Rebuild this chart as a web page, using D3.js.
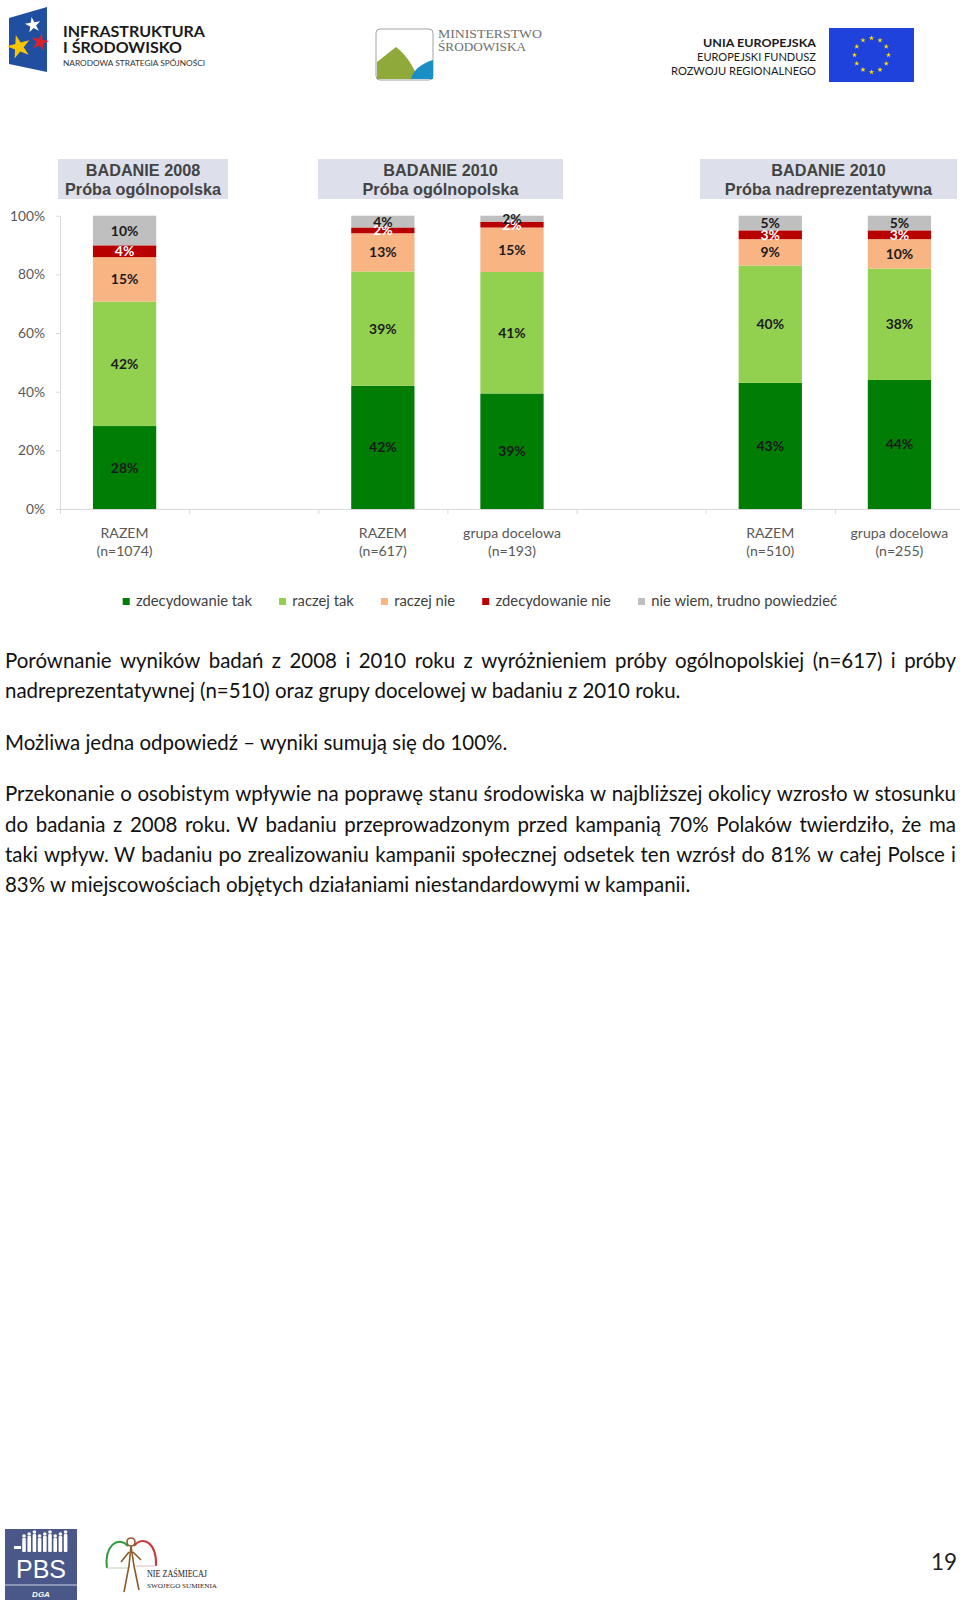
<!DOCTYPE html>
<html>
<head>
<meta charset="utf-8">
<script src="https://cdn.jsdelivr.net/npm/d3@7"></script>
<style>
  body { margin: 0; background: #fff; }
  svg { display: block; }
</style>
</head>
<body>
<script>
// chart data
const categoryNames = ["RAZEM", "", "RAZEM", "grupa docelowa", "", "RAZEM", "grupa docelowa"];
const categorySizes = ["(n=1074)", "", "(n=617)", "(n=193)", "", "(n=510)", "(n=255)"];
const seriesNames = ["zdecydowanie tak", "raczej tak", "raczej nie", "zdecydowanie nie", "nie wiem, trudno powiedzieć"];
const zdecydowanieTak = [28, 0, 42, 39, 0, 43, 44];
const raczejTak = [42, 0, 39, 41, 0, 40, 38];
const raczejNie = [15, 0, 13, 15, 0, 9, 10];
const zdecydowanieNie = [4, 0, 2, 2, 0, 3, 3];
const nieWiem = [10, 0, 4, 2, 0, 5, 5];
const yTicks = [0, 0.2, 0.4, 0.6, 0.8, 1];
const groupTitles = ["BADANIE 2008", "BADANIE 2010", "BADANIE 2010"];
const groupSubtitles = ["Próba ogólnopolska", "Próba ogólnopolska", "Próba nadreprezentatywna"];

const paragraphs = [
  ["Porównanie wyników badań z 2008 i 2010 roku z wyróżnieniem próby ogólnopolskiej (n=617) i próby",
   "nadreprezentatywnej (n=510) oraz grupy docelowej w badaniu z 2010 roku."],
  ["Możliwa jedna odpowiedź – wyniki sumują się do 100%."],
  ["Przekonanie o osobistym wpływie na poprawę stanu środowiska w najbliższej okolicy wzrosło w stosunku",
   "do badania z 2008 roku. W badaniu przeprowadzonym przed kampanią 70% Polaków twierdziło, że ma",
   "taki wpływ. W badaniu po zrealizowaniu kampanii społecznej odsetek ten wzrósł do 81% w całej Polsce i",
   "83% w miejscowościach objętych działaniami niestandardowymi w kampanii."]
];

const seriesValues = [zdecydowanieTak, raczejTak, raczejNie, zdecydowanieNie, nieWiem];
const colors = ["#007d05", "#92d050", "#f9b484", "#b80000", "#bfbfbf"];
const labelColors = ["#1a1a1a", "#1a1a1a", "#1a1a1a", "#ffffff", "#1a1a1a"];

const W = 960, H = 1604;
const sans = "Lato, 'Open Sans', sans-serif";
const arial = "'Liberation Sans', Arial, sans-serif";
const serif = "'Liberation Serif', 'DejaVu Serif', serif";

let svg = d3.select("body").append("svg")
    .attr("width", W)
    .attr("height", H);

// font size that makes str exactly target px wide
function fitSize(str, target, family, weight) {
    let t = svg.append("text")
        .attr("font-family", family)
        .attr("font-weight", weight || "normal")
        .attr("font-size", 100)
        .text(str);
    let w = t.node().getComputedTextLength();
    t.remove();
    return 100 * target / w;
}

let tickSize = fitSize("100%", 35, sans);
let catSize = fitSize("grupa docelowa", 98, sans);
let barLabelSize = fitSize("42%", 27.5, sans, "bold");
let headSize = fitSize("Próba ogólnopolska", 156, arial, "bold");
let legendSize = fitSize("zdecydowanie tak", 116, sans);
let paraSize = fitSize(paragraphs[0][1], 676, sans);

// ---------- chart ----------
let plot = {left: 60, right: 964, top: 215.7, bottom: 509};

let x = d3.scaleBand()
    .domain(d3.range(categoryNames.length))
    .range([plot.left, plot.right])
    .paddingInner(0.51)
    .paddingOuter(0.255);

let xb = d3.scaleLinear()
    .domain([0, categoryNames.length])
    .range([plot.left, plot.right]);

let y = d3.scaleLinear().domain([0, 1]).range([plot.bottom, plot.top]);

let rows = d3.range(categoryNames.length).map(i => {
    let r = {i: i};
    seriesValues.forEach((s, k) => r["s" + k] = s[i]);
    return r;
});

let stacked = d3.stack()
    .keys(seriesValues.map((s, k) => "s" + k))
    .offset(d3.stackOffsetExpand)(rows);

// header boxes over the groups
let headerBoxes = [[58, 228], [318, 563], [700, 957]];
let head = svg.append("g").selectAll("g")
    .data(groupTitles)
    .join("g");
head.append("rect")
    .attr("x", (d, i) => headerBoxes[i][0])
    .attr("y", 159)
    .attr("width", (d, i) => headerBoxes[i][1] - headerBoxes[i][0])
    .attr("height", 40)
    .attr("fill", "#dde0ea");
head.append("text")
    .attr("x", (d, i) => (headerBoxes[i][0] + headerBoxes[i][1]) / 2)
    .attr("y", 176)
    .attr("text-anchor", "middle")
    .attr("font-family", arial)
    .attr("font-weight", "bold")
    .attr("font-size", headSize)
    .attr("fill", "#434343")
    .text(d => d);
head.append("text")
    .attr("x", (d, i) => (headerBoxes[i][0] + headerBoxes[i][1]) / 2)
    .attr("y", 195)
    .attr("text-anchor", "middle")
    .attr("font-family", arial)
    .attr("font-weight", "bold")
    .attr("font-size", headSize)
    .attr("fill", "#434343")
    .text((d, i) => groupSubtitles[i]);

// y axis
let yAxis = svg.append("g")
    .attr("transform", "translate(" + plot.left + ",0)")
    .call(d3.axisLeft(y)
        .tickValues(yTicks)
        .tickFormat(d3.format(".0%"))
        .tickSize(4)
        .tickSizeOuter(0)
        .tickPadding(11));
yAxis.selectAll("path, line").attr("stroke", "#d9d9d9");
yAxis.selectAll("text")
    .attr("font-family", sans)
    .attr("font-size", tickSize)
    .attr("fill", "#595959");

// x axis (category boundaries)
let xAxis = svg.append("g")
    .attr("transform", "translate(0," + plot.bottom + ")")
    .call(d3.axisBottom(xb)
        .tickValues(d3.range(categoryNames.length + 1))
        .tickFormat("")
        .tickSize(5)
        .tickSizeOuter(0));
xAxis.selectAll("path, line").attr("stroke", "#d9d9d9");

// bars
let layer = svg.append("g").selectAll("g")
    .data(stacked)
    .join("g")
    .attr("fill", d => colors[d.index]);

layer.selectAll("rect")
    .data(d => d.filter(s => categoryNames[s.data.i] !== ""))
    .join("rect")
    .attr("x", s => x(s.data.i))
    .attr("width", x.bandwidth())
    .attr("y", s => y(s[1]))
    .attr("height", s => y(s[0]) - y(s[1]));

// value labels
let labels = svg.append("g").selectAll("g")
    .data(stacked)
    .join("g")
    .attr("fill", d => labelColors[d.index]);

labels.selectAll("text")
    .data(d => d.filter(s => categoryNames[s.data.i] !== "").map(s => ({s: s, k: d.index})))
    .join("text")
    .attr("x", d => x(d.s.data.i) + x.bandwidth() / 2)
    .attr("y", d => y((d.s[0] + d.s[1]) / 2))
    .attr("dy", "0.36em")
    .attr("text-anchor", "middle")
    .attr("font-family", sans)
    .attr("font-weight", "bold")
    .attr("font-size", barLabelSize)
    .text(d => seriesValues[d.k][d.s.data.i] + "%");

// category labels
let cats = svg.append("g").selectAll("text")
    .data(d3.range(categoryNames.length).filter(i => categoryNames[i] !== ""))
    .join("text")
    .attr("text-anchor", "middle")
    .attr("font-family", sans)
    .attr("font-size", catSize)
    .attr("fill", "#595959");
cats.append("tspan")
    .attr("x", i => x(i) + x.bandwidth() / 2)
    .attr("y", 537.5)
    .text(i => categoryNames[i]);
cats.append("tspan")
    .attr("x", i => x(i) + x.bandwidth() / 2)
    .attr("y", 556)
    .text(i => categorySizes[i]);

// legend
let legend = svg.append("g");
let lx = 122.7;
let items = seriesNames.map((name, k) => {
    let g = legend.append("g");
    g.append("rect")
        .attr("y", 598)
        .attr("width", 7)
        .attr("height", 7)
        .attr("fill", colors[k]);
    let t = g.append("text")
        .attr("x", 13.3)
        .attr("y", 605.5)
        .attr("font-family", sans)
        .attr("font-size", legendSize)
        .attr("fill", "#404040")
        .text(name);
    return {g: g, w: 13.3 + t.node().getComputedTextLength()};
});
let legendGap = (837 - 122.7 - d3.sum(items, d => d.w)) / (items.length - 1);
items.forEach(it => {
    it.g.attr("transform", "translate(" + lx + ",0)");
    lx += it.w + legendGap;
});

// ---------- body text (justified) ----------
let textG = svg.append("g")
    .attr("font-family", sans)
    .attr("font-size", paraSize)
    .attr("fill", "#111");
let left = 5, right = 956, baseY = 668, lineH = 30.3, paraGap = 21.2;
let ly = baseY;
paragraphs.forEach(lines => {
    lines.forEach((line, li) => {
        let last = li === lines.length - 1;
        if (last) {
            textG.append("text").attr("x", left).attr("y", ly).text(line);
        } else {
            let words = line.split(" ");
            let t = textG.append("text").attr("y", ly);
            let spans = words.map(w => t.append("tspan").text(w));
            let widths = spans.map(s => s.node().getComputedTextLength());
            let gap = (right - left - d3.sum(widths)) / (words.length - 1);
            let cx = left;
            spans.forEach((s, i) => {
                s.attr("x", cx);
                cx += widths[i] + gap;
            });
        }
        ly += lineH;
    });
    ly += paraGap;
});

// ---------- header logos ----------
let logos = svg.append("g");

// Infrastruktura i Srodowisko
logos.append("polygon")
    .attr("points", "9,18 47,7 47,72 9,64")
    .attr("fill", "#1f4f9e");
let star = d3.symbol(d3.symbolStar);
logos.append("path").attr("d", star.size(75)())
    .attr("transform", "translate(33,25) rotate(-10)").attr("fill", "#ffffff");
logos.append("path").attr("d", star.size(95)())
    .attr("transform", "translate(40,42) rotate(12)").attr("fill", "#d8232f");
logos.append("path").attr("d", star.size(170)())
    .attr("transform", "translate(19,47) rotate(-15)").attr("fill", "#f7c600");
logos.append("text").attr("x", 63).attr("y", 37)
    .attr("font-family", sans).attr("font-weight", "bold").attr("font-size", 15)
    .attr("textLength", 142).attr("lengthAdjust", "spacingAndGlyphs")
    .attr("fill", "#1a1a1a").text("INFRASTRUKTURA");
logos.append("text").attr("x", 63).attr("y", 53)
    .attr("font-family", sans).attr("font-weight", "bold").attr("font-size", 15)
    .attr("textLength", 119).attr("lengthAdjust", "spacingAndGlyphs")
    .attr("fill", "#1a1a1a").text("I ŚRODOWISKO");
logos.append("text").attr("x", 63).attr("y", 66)
    .attr("font-family", sans).attr("font-size", 7.5)
    .attr("textLength", 142).attr("lengthAdjust", "spacingAndGlyphs")
    .attr("fill", "#333").text("NARODOWA STRATEGIA SPÓJNOŚCI");

// Ministerstwo Srodowiska
logos.append("rect").attr("x", 376).attr("y", 29).attr("width", 57).attr("height", 51).attr("rx", 4)
    .attr("fill", "#fff").attr("stroke", "#8a8a8a").attr("stroke-width", 0.8);
logos.append("path")
    .attr("d", "M377,62 L396,47 Q405,54 411,64 Q416,73 419,79 L377,79 Z")
    .attr("fill", "#8fa93b");
logos.append("path")
    .attr("d", "M411,79 Q414,66 433,60 L433,79 Z")
    .attr("fill", "#1a8fc6");
logos.append("text").attr("x", 438).attr("y", 38)
    .attr("font-family", serif).attr("font-size", 12.5)
    .attr("textLength", 104).attr("lengthAdjust", "spacingAndGlyphs")
    .attr("fill", "#707070").text("MINISTERSTWO");
logos.append("text").attr("x", 438).attr("y", 51)
    .attr("font-family", serif).attr("font-size", 12.5)
    .attr("textLength", 88).attr("lengthAdjust", "spacingAndGlyphs")
    .attr("fill", "#707070").text("ŚRODOWISKA");

// Unia Europejska
let euText = [["UNIA EUROPEJSKA", 47, 113, "bold"], ["EUROPEJSKI FUNDUSZ", 61, 119, "normal"], ["ROZWOJU REGIONALNEGO", 74.5, 145, "normal"]];
euText.forEach(e => {
    logos.append("text").attr("x", 816 - e[2]).attr("y", e[1])
        .attr("font-family", sans).attr("font-weight", e[3]).attr("font-size", 12)
        .attr("textLength", e[2]).attr("lengthAdjust", "spacingAndGlyphs")
        .attr("fill", "#1a1a1a").text(e[0]);
});
logos.append("rect").attr("x", 829).attr("y", 28).attr("width", 85).attr("height", 54)
    .attr("fill", "#1f41dc");
d3.range(12).forEach(i => {
    let a = i * Math.PI / 6;
    logos.append("path").attr("d", d3.symbol(d3.symbolStar).size(9)())
        .attr("transform", "translate(" + (871.5 + 17 * Math.cos(a)) + "," + (55 + 17 * Math.sin(a)) + ")")
        .attr("fill", "#ffe100");
});

// ---------- footer ----------
let foot = svg.append("g");
foot.append("rect").attr("x", 5).attr("y", 1529).attr("width", 72).attr("height", 71).attr("fill", "#4a5889");
foot.append("line").attr("x1", 5).attr("x2", 77).attr("y1", 1585).attr("y2", 1585)
    .attr("stroke", "#c9cde0").attr("stroke-width", 1.2);
d3.range(9).forEach(i => {
    let px = 24 + i * 5.2, hh = 14 + (i % 3) * 2;
    foot.append("circle").attr("cx", px).attr("cy", 1552 - hh - 2).attr("r", 1.8).attr("fill", "#fff");
    foot.append("rect").attr("x", px - 1.8).attr("y", 1552 - hh).attr("width", 3.6).attr("height", hh)
        .attr("rx", 1).attr("fill", "#fff");
});
foot.append("rect").attr("x", 14).attr("y", 1546).attr("width", 7).attr("height", 3).attr("fill", "#fff");
foot.append("text").attr("x", 41).attr("y", 1578).attr("text-anchor", "middle")
    .attr("font-family", arial).attr("font-size", 25)
    .attr("textLength", 50).attr("lengthAdjust", "spacingAndGlyphs")
    .attr("fill", "#fff").text("PBS");
foot.append("text").attr("x", 41).attr("y", 1597).attr("text-anchor", "middle")
    .attr("font-family", arial).attr("font-size", 8).attr("font-weight", "bold").attr("font-style", "italic")
    .attr("fill", "#fff").text("DGA");

// Nie zasmiecaj swojego sumienia
foot.append("path").attr("d", "M107,1568 C104,1546 118,1535 128,1546")
    .attr("fill", "none").attr("stroke", "#2e9a3e").attr("stroke-width", 2);
foot.append("path").attr("d", "M107,1568 L128,1568")
    .attr("fill", "none").attr("stroke", "#b9d3b0").attr("stroke-width", 1);
foot.append("path").attr("d", "M134,1546 C142,1535 157,1542 156,1566")
    .attr("fill", "none").attr("stroke", "#c83a3a").attr("stroke-width", 2);
foot.append("path").attr("d", "M136,1566 L156,1566")
    .attr("fill", "none").attr("stroke", "#e2bcbc").attr("stroke-width", 1);
foot.append("circle").attr("cx", 131).attr("cy", 1542).attr("r", 4)
    .attr("fill", "none").attr("stroke", "#8b5a2b").attr("stroke-width", 1.6);
foot.append("path")
    .attr("d", "M131,1546 L129,1566 L124,1592 M131,1546 L134,1566 L139,1590 M129,1552 L121,1562 M133,1552 L141,1560")
    .attr("fill", "none").attr("stroke", "#8b5a2b").attr("stroke-width", 1.6);
foot.append("text").attr("x", 147).attr("y", 1577)
    .attr("font-family", serif).attr("font-size", 9.5)
    .attr("textLength", 60).attr("lengthAdjust", "spacingAndGlyphs")
    .attr("fill", "#222").text("NIE ZAŚMIECAJ");
foot.append("text").attr("x", 147).attr("y", 1588)
    .attr("font-family", serif).attr("font-size", 7)
    .attr("textLength", 70).attr("lengthAdjust", "spacingAndGlyphs")
    .attr("fill", "#222").text("SWOJEGO SUMIENIA");

// page number
foot.append("text").attr("x", 957).attr("y", 1570).attr("text-anchor", "end")
    .attr("font-family", sans).attr("font-size", paraSize + 2)
    .attr("fill", "#222").text("19");
</script>
</body>
</html>
